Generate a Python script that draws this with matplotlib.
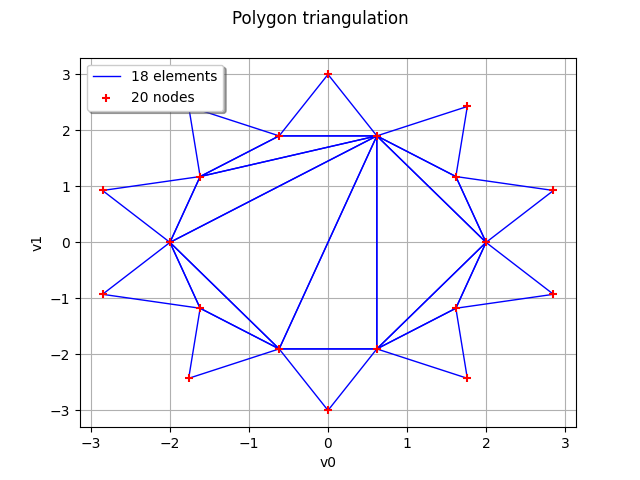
import matplotlib
matplotlib.use('Agg')
import matplotlib.pyplot as plt

# node coordinates (star polygon, inner radius 2, outer radius 3)
node_x = [2.0, 2.853, 1.618, 1.763, 0.618, 0.0, -0.618, -1.763, -1.618, -2.853,
          -2.0, -2.853, -1.618, -1.763, -0.618, 0.0, 0.618, 1.763, 1.618, 2.853]
node_y = [0.0, 0.927, 1.176, 2.427, 1.902, 3.0, 1.902, 2.427, 1.176, 0.927,
          0.0, -0.927, -1.176, -2.427, -1.902, -3.0, -1.902, -2.427, -1.176, -0.927]

# triangles as node indices
elements = [
    (0, 1, 2), (2, 3, 4), (4, 5, 6), (6, 7, 8), (8, 9, 10),
    (10, 11, 12), (12, 13, 14), (14, 15, 16), (16, 17, 18), (18, 19, 0),
    (4, 6, 8), (4, 8, 10), (4, 10, 14), (10, 12, 14),
    (4, 14, 16), (4, 16, 0), (16, 18, 0), (4, 0, 2),
]

fig, ax = plt.subplots(figsize=(6.4, 4.8), dpi=100)
fig.suptitle('Polygon triangulation')

for i, tri in enumerate(elements):
    idx = list(tri) + [tri[0]]
    ax.plot([node_x[j] for j in idx], [node_y[j] for j in idx], color='blue', lw=1,
            label='%d elements' % len(elements) if i == 0 else None)

ax.scatter(node_x, node_y, color='red', marker='+', s=40, zorder=3,
           label='%d nodes' % len(node_x))

ax.set_xlabel('v0')
ax.set_ylabel('v1')
ax.grid(True)
ax.legend(loc='upper left', shadow=True, fancybox=True)
fig.savefig('out.png')
